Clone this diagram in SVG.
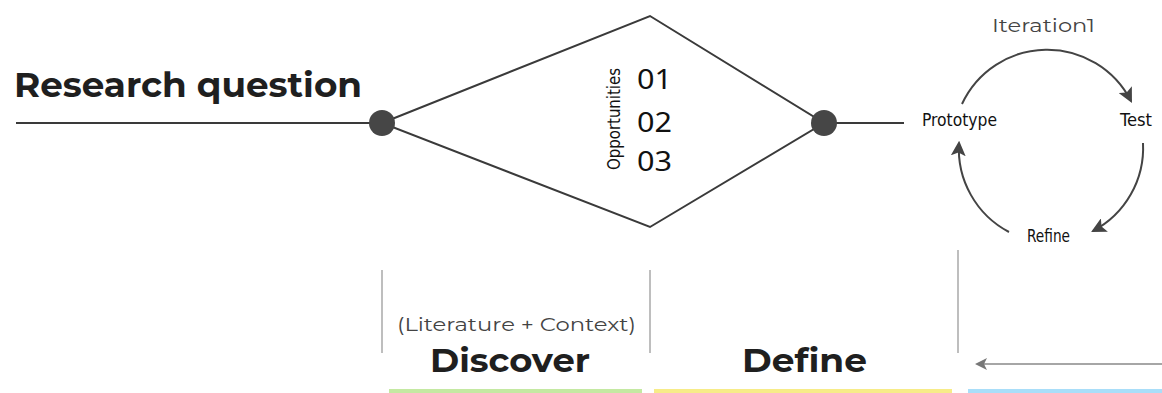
<svg xmlns="http://www.w3.org/2000/svg" width="1162" height="393" viewBox="0 0 1162 393">
  <style>
    .line { stroke: #3a3a3a; stroke-width: 2; fill: none; }
    .guide { stroke: #a8a8a8; stroke-width: 1.5; fill: none; }
    .dot { fill: #464646; }
    .title { font-family: "Montserrat", "Lato", "Open Sans", sans-serif; font-weight: 700; fill: #1f1f1f; }
    .hand { font-family: "DejaVu Sans Condensed", "Noto Sans", sans-serif; fill: #111; }
    .num { font-family: "Noto Sans", "Open Sans", sans-serif; fill: #111; }
    .light { font-family: "Montserrat", "Lato", "Open Sans", sans-serif; fill: #444; }
    .cycle { stroke: #444; stroke-width: 2; fill: none; marker-end: url(#head); }
  </style>
  <defs>
    <marker id="head" viewBox="0 0 14 14" refX="12" refY="7" markerWidth="15" markerHeight="15" markerUnits="userSpaceOnUse" orient="auto">
      <path d="M0,0 L14,7 L0,14 L3,7 Z" fill="#444"/>
    </marker>
    <marker id="headGray" viewBox="0 0 12 12" refX="10" refY="6" markerWidth="12" markerHeight="12" markerUnits="userSpaceOnUse" orient="auto">
      <path d="M0,0 L12,6 L0,12 L3,6 Z" fill="#777"/>
    </marker>
  </defs>

  <!-- connectors -->
  <g id="connectors">
    <line class="line" x1="16" y1="123" x2="382" y2="123"/>
    <polygon class="line" points="382,123 650,16 824,123 650,227"/>
    <line class="line" x1="824" y1="123" x2="904" y2="123"/>
    <!-- iteration cycle -->
    <path class="cycle" d="M962,104 A94,94 0 0 1 1131,101"/>
    <path class="cycle" d="M1143,143 A94,94 0 0 1 1093,231"/>
    <path class="cycle" d="M1009,232 A94,94 0 0 1 959,143"/>
    <!-- phase dividers -->
    <line class="guide" x1="382" y1="270" x2="382" y2="353"/>
    <line class="guide" x1="650" y1="270" x2="650" y2="353"/>
    <line class="guide" x1="958" y1="250" x2="958" y2="353"/>
    <line x1="1162" y1="364" x2="977" y2="364" stroke="#888" stroke-width="1.5" marker-end="url(#headGray)"/>
  </g>

  <g id="start-node">
    <circle class="dot" cx="382" cy="123" r="13"/>
  </g>
  <g id="end-node">
    <circle class="dot" cx="824" cy="123" r="13"/>
  </g>

  <g id="research-question">
    <text class="title" x="14" y="97" font-size="34" textLength="348" lengthAdjust="spacingAndGlyphs">Research question</text>
  </g>

  <g id="opportunities">
    <text class="hand" font-size="17" text-anchor="middle" transform="translate(620,119) rotate(-90)" textLength="102" lengthAdjust="spacingAndGlyphs">Opportunities</text>
    <text class="num" x="637" y="89" font-size="28" textLength="35" lengthAdjust="spacingAndGlyphs">01</text>
    <text class="num" x="637" y="132" font-size="28" textLength="35" lengthAdjust="spacingAndGlyphs">02</text>
    <text class="num" x="637" y="171" font-size="28" textLength="35" lengthAdjust="spacingAndGlyphs">03</text>
  </g>

  <g id="iteration">
    <text class="light" x="992" y="32" font-size="19" textLength="103" lengthAdjust="spacingAndGlyphs">Iteration1</text>
  </g>
  <g id="prototype">
    <text class="hand" x="922" y="126" font-size="17" textLength="75" lengthAdjust="spacingAndGlyphs">Prototype</text>
  </g>
  <g id="test">
    <text class="hand" x="1120" y="126" font-size="17" textLength="32" lengthAdjust="spacingAndGlyphs">Test</text>
  </g>
  <g id="refine">
    <text class="hand" x="1027" y="242" font-size="17" textLength="43" lengthAdjust="spacingAndGlyphs">Refine</text>
  </g>

  <g id="discover">
    <text class="light" x="397" y="331" font-size="18" textLength="239" lengthAdjust="spacingAndGlyphs">(Literature + Context)</text>
    <text class="title" x="430" y="372" font-size="32" textLength="160" lengthAdjust="spacingAndGlyphs">Discover</text>
    <rect x="389" y="389" width="253" height="4" fill="#c4e9a2"/>
  </g>

  <g id="define">
    <text class="title" x="742" y="372" font-size="32" textLength="125" lengthAdjust="spacingAndGlyphs">Define</text>
    <rect x="654" y="389" width="298" height="4" fill="#f7ec88"/>
  </g>

  <g id="develop">
    <rect x="968" y="389" width="194" height="4" fill="#a9def9"/>
  </g>
</svg>
